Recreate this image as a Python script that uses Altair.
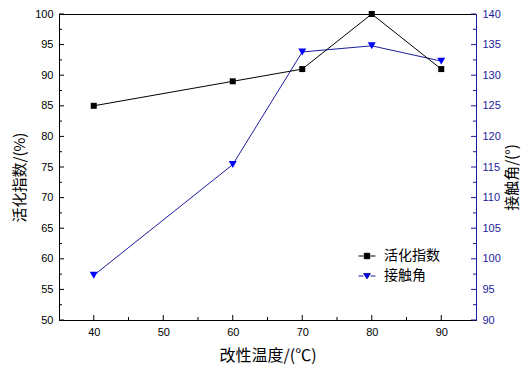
import altair as alt
import pandas as pd

# ---- data ----
temps = [40, 60, 70, 80, 90]
activity = [85, 89, 91, 100, 91]          # 活化指数 (%)
contact = [97.3, 115.4, 133.8, 134.8, 132.3]  # 接触角 (°)
series_names = ["活化指数", "接触角"]

x_major = [40, 50, 60, 70, 80, 90]
x_minor = [45, 55, 65, 75, 85]
yl_major = [50, 55, 60, 65, 70, 75, 80, 85, 90, 95, 100]
yl_minor = [52.5, 57.5, 62.5, 67.5, 72.5, 77.5, 82.5, 87.5, 92.5, 97.5]
yr_major = [90, 95, 100, 105, 110, 115, 120, 125, 130, 135, 140]
yr_minor = [92.5, 97.5, 102.5, 107.5, 112.5, 117.5, 122.5, 127.5, 132.5, 137.5]

x_title = "改性温度/(℃)"
yl_title = "活化指数/(%)"
yr_title = "接触角/(°)"

W, H = 417, 306
NAVY = "#1c1c9c"
BLUE = "#0000ff"
NUM_FONT = "Liberation Sans"
CJK = "Noto Sans CJK SC"
MAJ, MIN = 5, 3

df = pd.DataFrame({"t": temps, "a": activity, "c": contact})
legend_df = pd.DataFrame({"s": series_names})

x_scale = alt.Scale(domain=[35, 95], nice=False, zero=False)
yl_scale = alt.Scale(domain=[50, 100], nice=False, zero=False)
yr_scale = alt.Scale(domain=[90, 140], nice=False, zero=False)

x_axis = alt.Axis(values=x_major, ticks=False, grid=False, domainColor="black",
                  labelPadding=6, labelFont=NUM_FONT, labelFontSize=11,
                  labelColor="black", labelFlush=False,
                  titleFont=CJK, titleFontSize=16, titleFontWeight="normal",
                  titleColor="black", titleX=W / 2, titleY=35,
                  titleBaseline="middle", titleAlign="center")
yl_axis = alt.Axis(orient="left", values=yl_major, ticks=False, grid=False,
                   domainColor="black", labelPadding=6, labelFont=NUM_FONT,
                   labelFontSize=11, labelColor="black", labelFlush=False,
                   titleFont=CJK, titleFontSize=15, titleFontWeight="normal",
                   titleColor="black", titleAngle=270, titleX=-40,
                   titleY=H / 2 + 10, titleBaseline="middle", titleAlign="center")
yr_axis = alt.Axis(orient="right", values=yr_major, ticks=False, grid=False,
                   domainColor=NAVY, labelPadding=6, labelFont=NUM_FONT,
                   labelFontSize=11, labelColor=NAVY, labelFlush=False,
                   titleFont=CJK, titleFontSize=15, titleFontWeight="normal",
                   titleColor="black", titleAngle=270, titleX=35,
                   titleY=H / 2 + 10, titleBaseline="middle", titleAlign="center")


def X(field):
    return alt.X(field, type="quantitative", scale=x_scale, axis=x_axis, title=x_title)


def YL(field):
    return alt.Y(field, type="quantitative", scale=yl_scale, axis=yl_axis, title=yl_title)


def YR(field):
    return alt.Y(field, type="quantitative", scale=yr_scale, axis=yr_axis, title=yr_title)


def vals(v):
    return pd.DataFrame({"v": v})


# ---- blue (right axis) ----
blue_line = alt.Chart(df).mark_line(color=NAVY, strokeWidth=1).encode(x=X("t"), y=YR("c"))
blue_pts = alt.Chart(df).mark_point(shape="triangle-down", filled=True, color=BLUE,
                                    size=64, opacity=1).encode(x=X("t"), y=YR("c"))
yr_ticks_maj = alt.Chart(vals(yr_major)).mark_rule(color=NAVY, strokeWidth=1).encode(
    y=YR("v"), x=alt.value(W), x2=alt.value(W - MAJ))
yr_ticks_min = alt.Chart(vals(yr_minor)).mark_rule(color=NAVY, strokeWidth=1).encode(
    y=YR("v"), x=alt.value(W), x2=alt.value(W - MIN))
right_layer = alt.layer(blue_line, blue_pts, yr_ticks_maj, yr_ticks_min)

# ---- black (left axis) ----
black_line = alt.Chart(df).mark_line(color="black", strokeWidth=1).encode(x=X("t"), y=YL("a"))
black_pts = alt.Chart(df).mark_point(shape="square", filled=True, color="black",
                                     size=36, opacity=1).encode(x=X("t"), y=YL("a"))
yl_ticks_maj = alt.Chart(vals(yl_major)).mark_rule(color="black", strokeWidth=1).encode(
    y=YL("v"), x=alt.value(0), x2=alt.value(MAJ))
yl_ticks_min = alt.Chart(vals(yl_minor)).mark_rule(color="black", strokeWidth=1).encode(
    y=YL("v"), x=alt.value(0), x2=alt.value(MIN))
x_ticks_maj = alt.Chart(vals(x_major)).mark_rule(color="black", strokeWidth=1).encode(
    x=X("v"), y=alt.value(H), y2=alt.value(H - MAJ))
x_ticks_min = alt.Chart(vals(x_minor)).mark_rule(color="black", strokeWidth=1).encode(
    x=X("v"), y=alt.value(H), y2=alt.value(H - MIN))

sym_sq = "M-1,0H-0.42M0.42,0H1M-0.32,-0.32H0.32V0.32H-0.32Z"
sym_tri = "M-1,0H-0.42M0.42,0H1M-0.4,-0.3H0.4L0,0.34Z"
leg = alt.Legend(title=None, orient="none", legendX=299, legendY=233, padding=0,
                 symbolSize=289, symbolStrokeWidth=1, labelFont=CJK,
                 labelFontSize=14, labelColor="black", labelOffset=8,
                 rowPadding=4)
legend_layer = alt.Chart(legend_df).transform_filter("false").mark_point(
    filled=True, opacity=1).encode(
    fill=alt.Fill("s:N", scale=alt.Scale(domain=series_names, range=["black", BLUE]), legend=leg),
    stroke=alt.Stroke("s:N", scale=alt.Scale(domain=series_names, range=["black", NAVY]), legend=leg),
    shape=alt.Shape("s:N", scale=alt.Scale(domain=series_names, range=[sym_sq, sym_tri]), legend=leg),
)
left_layer = alt.layer(black_line, black_pts, yl_ticks_maj, yl_ticks_min,
                       x_ticks_maj, x_ticks_min, legend_layer)

chart = alt.layer(right_layer, left_layer).resolve_scale(y="independent").properties(
    width=W, height=H,
    autosize=alt.AutoSizeParams(type="none"),
    padding={"left": 51, "top": 6, "right": 45, "bottom": 45},
    background="white",
).configure_view(stroke="black", strokeWidth=1)

chart.save("out.html", embed_options={"renderer": "svg", "actions": False})
